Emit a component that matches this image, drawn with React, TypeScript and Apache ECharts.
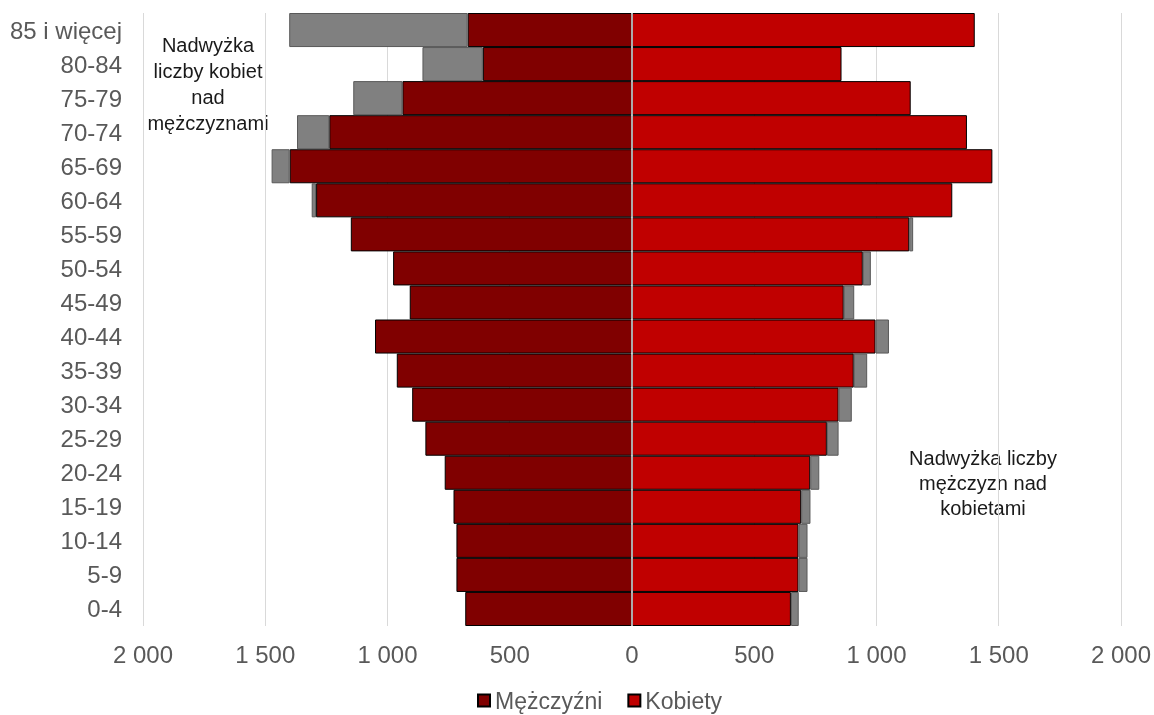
import React, { useEffect, useRef } from "react";
import * as echarts from "echarts";

const categories = [
  "0-4", "5-9", "10-14", "15-19", "20-24", "25-29", "30-34", "35-39", "40-44",
  "45-49", "50-54", "55-59", "60-64", "65-69", "70-74", "75-79", "80-84", "85 i więcej",
];
const men = [682, 718, 718, 730, 766, 845, 899, 962, 1051, 909, 977, 1150, 1292, 1400, 1238, 939, 610, 672];
const women = [650, 681, 681, 692, 729, 797, 845, 907, 996, 866, 944, 1134, 1310, 1474, 1370, 1140, 857, 1402];
const xTicks = [-2000, -1500, -1000, -500, 0, 500, 1000, 1500, 2000];

const FONT = "'Liberation Sans', Arial, sans-serif";

function fmt(v: number) {
  const a = Math.abs(v);
  return a >= 1000 ? `${Math.floor(a / 1000)} ${String(a % 1000).padStart(3, "0")}` : String(a);
}

export default function App() {
  const ref = useRef<HTMLDivElement>(null);
  useEffect(() => {
    if (!ref.current) return;
    const chart = echarts.init(ref.current, null, { renderer: "svg" });
    const menNeg = men.map((v) => -v);
    const excessWomen = men.map((m, i) => (women[i] > m ? -(women[i] - m) : null));
    const excessMen = men.map((m, i) => (m > women[i] ? m - women[i] : null));
    chart.setOption({
      animation: false,
      textStyle: { fontFamily: FONT },
      grid: { left: 143, right: 33, top: 13, bottom: 89 },
      xAxis: {
        type: "value",
        min: xTicks[0],
        max: xTicks[xTicks.length - 1],
        interval: 500,
        axisLine: { show: false },
        axisTick: { show: false },
        splitLine: { show: true, lineStyle: { color: "#d9d9d9", width: 1 } },
        axisLabel: { color: "#595959", fontSize: 24, fontFamily: FONT, margin: 16, formatter: (v: number) => fmt(v) },
      },
      yAxis: {
        type: "category",
        data: categories,
        axisLine: { show: false, onZero: false },
        axisTick: { show: false },
        splitLine: { show: false },
        axisLabel: { color: "#595959", fontSize: 24, fontFamily: FONT, margin: 21 },
      },
      legend: {
        data: ["Mężczyźni", "Kobiety"],
        left: 477,
        top: 689,
        padding: 0,
        icon: "rect",
        itemWidth: 12,
        itemHeight: 12,
        itemGap: 25,
        textStyle: { color: "#595959", fontSize: 23, lineHeight: 23, fontFamily: FONT },
      },
      series: [
        {
          name: "Mężczyźni",
          type: "bar",
          stack: "p",
          barCategoryGap: 0,
          data: menNeg,
          itemStyle: { color: "#800000", borderColor: "#000000", borderWidth: 1 },
        },
        {
          name: "Nadwyżka kobiet",
          type: "bar",
          stack: "p",
          barCategoryGap: 0,
          data: excessWomen,
          itemStyle: { color: "#808080", borderColor: "#595959", borderWidth: 1 },
        },
        {
          name: "Kobiety",
          type: "bar",
          stack: "p",
          barCategoryGap: 0,
          data: women,
          itemStyle: { color: "#c00000", borderColor: "#000000", borderWidth: 1 },
        },
        {
          name: "Nadwyżka mężczyzn",
          type: "bar",
          stack: "p",
          barCategoryGap: 0,
          data: excessMen,
          itemStyle: { color: "#808080", borderColor: "#595959", borderWidth: 1 },
          markLine: {
            silent: true,
            symbol: "none",
            label: { show: false },
            lineStyle: { color: "#e6e6e6", width: 1.5, type: "solid" },
            data: [{ xAxis: 0 }],
          },
        },
      ],
      graphic: [
        {
          type: "text",
          x: 208,
          y: 32,
          style: {
            text: "Nadwyżka\nliczby kobiet\nnad\nmężczyznami",
            align: "center",
            verticalAlign: "top",
            fill: "#1a1a1a",
            fontSize: 20,
            lineHeight: 26,
            fontFamily: FONT,
          },
        },
        {
          type: "text",
          x: 983,
          y: 445,
          style: {
            text: "Nadwyżka liczby\nmężczyzn nad\nkobietami",
            align: "center",
            verticalAlign: "top",
            fill: "#1a1a1a",
            fontSize: 20,
            lineHeight: 25,
            fontFamily: FONT,
          },
        },
      ],
    });
    return () => chart.dispose();
  }, []);
  return <div ref={ref} style={{ position: "fixed", left: 0, top: 0, width: 1154, height: 715 }} />;
}
